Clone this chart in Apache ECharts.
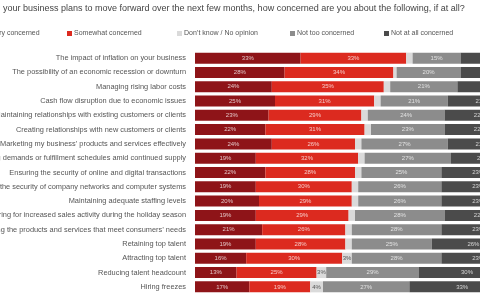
<!DOCTYPE html>
<html>
<head>
<meta charset="utf-8">
<script src="https://cdn.jsdelivr.net/npm/echarts@6/dist/echarts.min.js"></script>
<style>
	html, body {margin: 0; padding: 0; width: 480px; height: 300px; overflow: hidden; background: #fff;}
	#chart {position: absolute; left: -100px; top: 0; width: 620px; height: 300px;}
</style>
</head>
<body>
<div id="chart"></div>
<script>
// the reference is a crop of a wider chart, so the canvas runs past both edges
let categories = [
	'The impact of inflation on your business',
	'The possibility of an economic recession or downturn',
	'Managing rising labor costs',
	'Cash flow disruption due to economic issues',
	'Maintaining relationships with existing customers or clients',
	'Creating relationships with new customers or clients',
	'Marketing my business\u2019 products and services effectively',
	'Meeting demands or fulfillment schedules amid continued supply',
	'Ensuring the security of online and digital transactions',
	'Ensuring the security of company networks and computer systems',
	'Maintaining adequate staffing levels',
	'Preparing for increased sales activity during the holiday season',
	'Providing the products and services that meet consumers\u2019 needs',
	'Retaining top talent',
	'Attracting top talent',
	'Reducing talent headcount',
	'Hiring freezes',
];
let veryConcerned = [33, 28, 24, 25, 23, 22, 24, 19, 22, 19, 20, 19, 21, 19, 16, 13, 17];
let somewhatConcerned = [33, 34, 35, 31, 29, 31, 26, 32, 28, 30, 29, 29, 26, 28, 30, 25, 19];
let dontKnow = [2, 1, 2, 2, 2, 2, 2, 2, 2, 2, 2, 2, 2, 2, 3, 3, 4];
let notTooConcerned = [15, 20, 21, 21, 24, 23, 27, 27, 25, 26, 26, 28, 28, 25, 28, 29, 27];
let notAtAllConcerned = [17, 17, 18, 21, 22, 22, 21, 20, 23, 23, 23, 22, 23, 26, 23, 30, 33];

let names = ['Very concerned', 'Somewhat concerned', 'Don\u2019t know / No opinion', 'Not too concerned', 'Not at all concerned'];
let colors = ['#8e1418', '#dc2a1f', '#dadada', '#8c8c8c', '#4b4b4b'];
let values = [veryConcerned, somewhatConcerned, dontKnow, notTooConcerned, notAtAllConcerned];
let legendX = [84, 167, 277, 390, 484];

let chart = echarts.init(document.getElementById('chart'));

let series = names.map((name, i) => ({
	name,
	type: 'bar',
	stack: 'total',
	barWidth: 11,
	data: values[i],
	itemStyle: {color: colors[i]},
	label: {
		show: true,
		position: 'inside',
		fontSize: 6,
		fontFamily: 'Liberation Sans',
		color: i == 2 ? '#555' : 'rgba(255,255,255,0.75)',
		formatter: (p) => (i == 2 && p.value < 3) ? '' : p.value + '%',
	},
	emphasis: {disabled: true},
}));

chart.setOption({
	animation: false,
	textStyle: {fontFamily: 'Liberation Sans'},
	title: {
		text: 'your business plans to move forward over the next few months, how concerned are you about the following, if at all?',
		left: 103,
		top: 4,
		padding: 0,
		textStyle: {fontSize: 9, fontWeight: 'normal', color: '#444'},
	},
	legend: names.map((name, i) => ({
		data: [name],
		left: legendX[i],
		top: 30,
		padding: 0,
		itemWidth: 5,
		itemHeight: 5,
		itemGap: 2,
		icon: 'rect',
		textStyle: {fontSize: 7, color: '#555', padding: [0, 0, 0, -3]},
	})),
	grid: {left: 295, right: 5, top: 51, bottom: 6, containLabel: false},
	xAxis: {
		type: 'value',
		min: 0,
		max: 100,
		show: false,
	},
	yAxis: {
		type: 'category',
		inverse: true,
		data: categories,
		axisLine: {show: false},
		axisTick: {show: false},
		axisLabel: {fontSize: 7.4, color: '#555', margin: 9},
	},
	series,
});
</script>
</body>
</html>
